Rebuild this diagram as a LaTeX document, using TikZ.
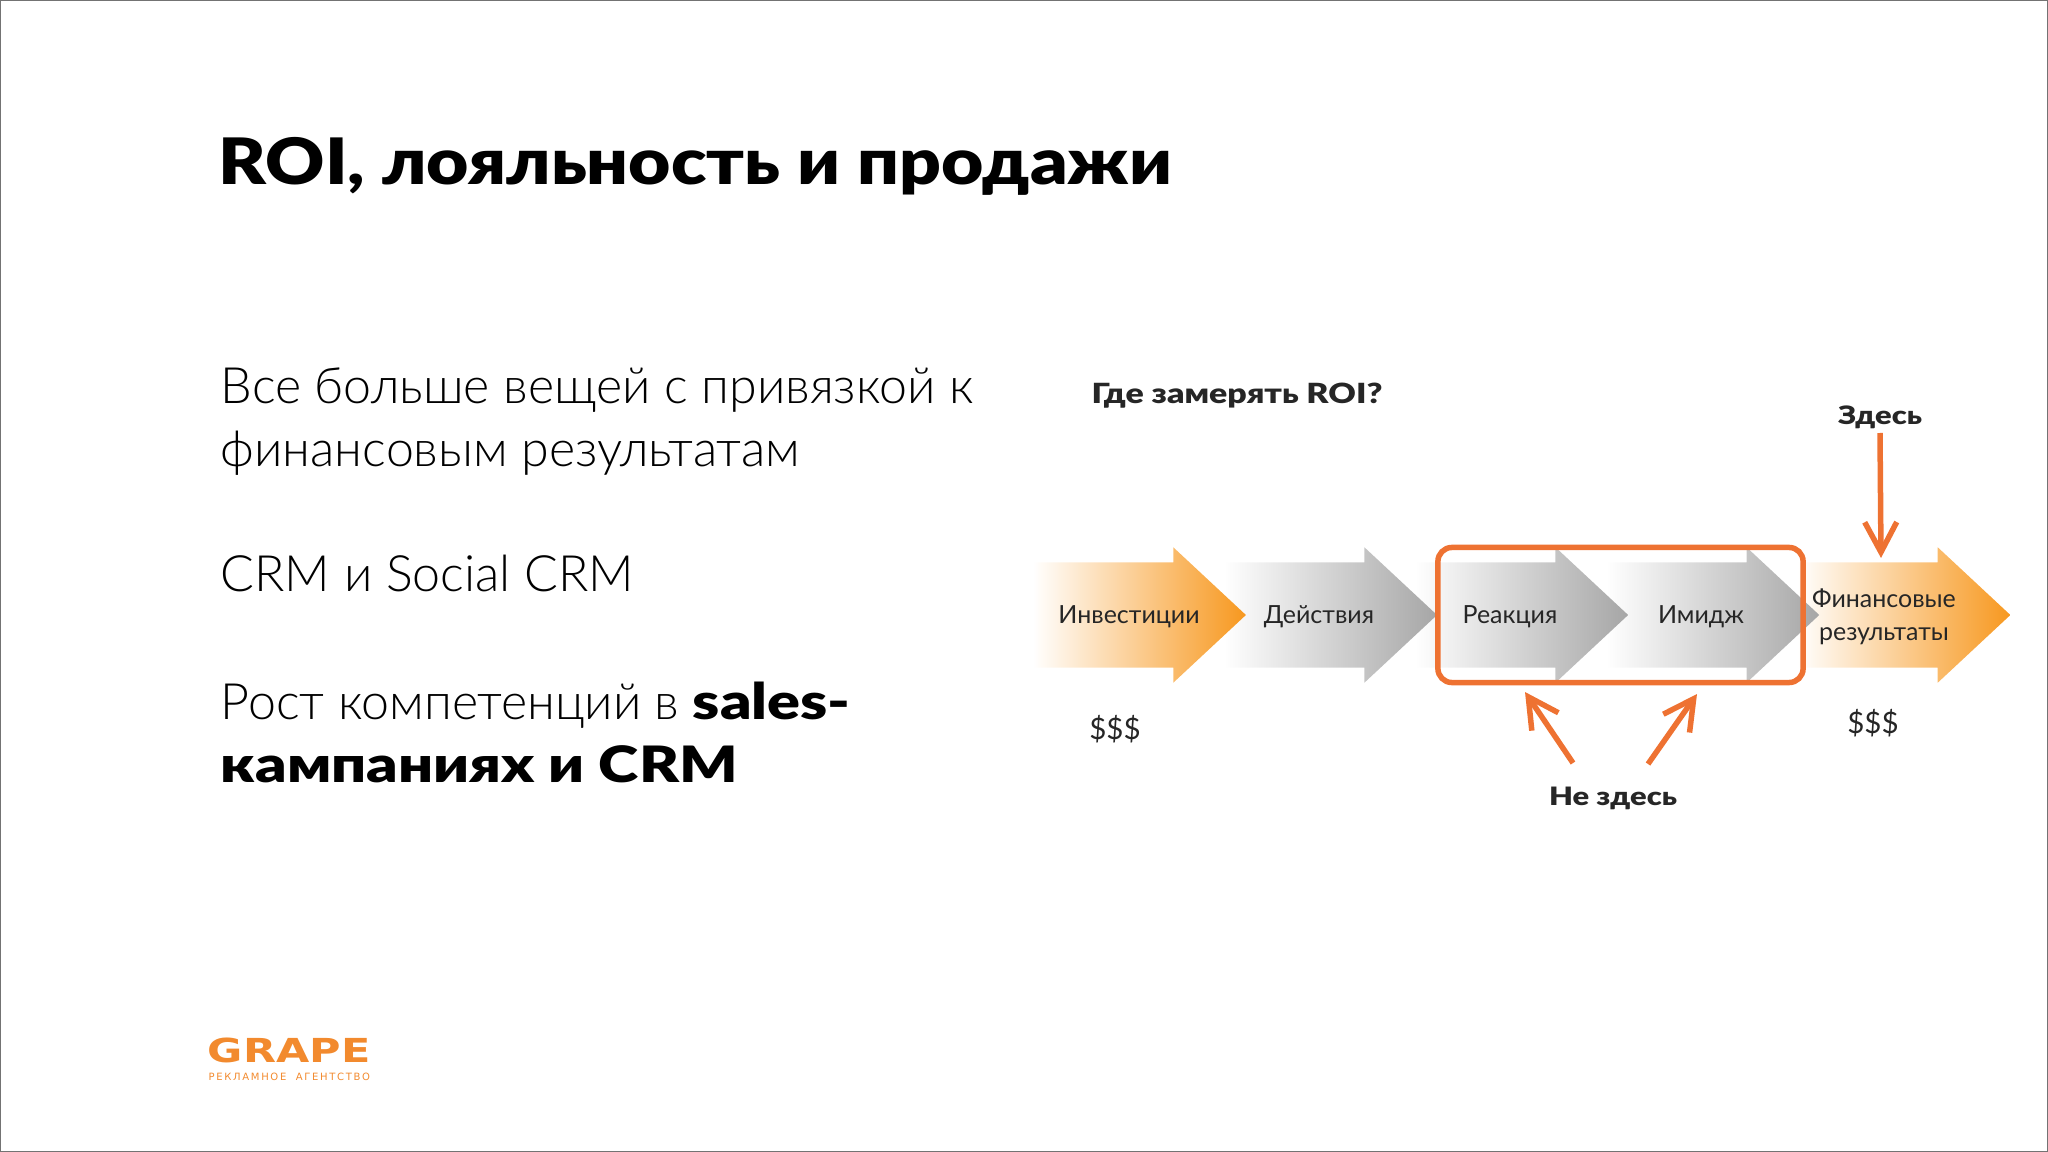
\documentclass[tikz,border=0pt]{standalone}
\usepackage{fontspec}
\usetikzlibrary{shapes.arrows,arrows.meta}
\setmainfont{Lato}
\newfontfamily\lightfont{Lato Light}
\newfontfamily\blackfont[FakeStretch=1.22]{Lato Black}
\newfontfamily\titlefont[FakeStretch=1.14]{Lato Black}
\newfontfamily\logofont{DejaVu Sans}
\definecolor{grapeorange}{HTML}{F28A2E}
\definecolor{markorange}{HTML}{EE7232}
\definecolor{headorange}{HTML}{F7981F}
\definecolor{headgray}{HTML}{A6A6A6}
\begin{document}
\begin{tikzpicture}[x=0.01cm, y=-0.01cm, node distance=1.91cm,
    step arrow/.style={single arrow,minimum width=1.34cm,minimum height=2.13cm,inner sep=0pt,
      text height=1.04cm,text depth=0pt,
      single arrow head extend=0.15cm,single arrow tip angle=86,draw=none},
    orange arrow/.style={step arrow,left color=white,right color=headorange},
    gray arrow/.style={step arrow,left color=white,right color=headgray},
    arrow label/.style={font=\fontsize{7.1pt}{9.4pt}\selectfont,text=black!85,align=center,inner sep=0pt},
    bold label/.style={font=\blackfont\fontsize{7.2pt}{9pt}\selectfont,text=black!85,inner sep=0pt},
    body text/.style={font=\lightfont\fontsize{14.25pt}{17.9pt}\selectfont,anchor=base west,inner sep=0pt,align=left},
    mark arrow/.style={draw=markorange,line width=0.055cm,-{Straight Barb[length=0.3cm,width=0.32cm]}}]
  \useasboundingbox (0,0) rectangle (2048,1152);
  \draw[black!55,line width=0.02cm] (0,0) rectangle (2048,1152);

  \node[font=\titlefont\fontsize{18.2pt}{22pt}\selectfont,anchor=base west,inner sep=0pt] (title) at (218,185) {ROI, лояльность и продажи};

  \node[body text] (line1) at (220,404) {Все больше вещей с привязкой к};
  \node[body text] (line2) at (220,467) {финансовым результатам};
  \node[body text] (line3) at (220,591) {CRM и Social CRM};
  \node[body text] (line4) at (220,719) {Рост компетенций в {\blackfont sales-}};
  \node[body text] (line5) at (220,782) {\blackfont кампаниях и CRM};

  % arrows go from right to left, each one lies under the tip of its left neighbour
  \node[orange arrow] (fin) at (1875.5,615) {};
  \node[gray arrow] (image) [left of=fin] {};
  \node[gray arrow] (react) [left of=image] {};
  \node[gray arrow] (act) [left of=react] {};
  \node[orange arrow] (invest) [left of=act] {};

  \node[arrow label] (l1) at (1129,617) {Инвестиции};
  \node[arrow label] (l2) at (1319,617) {Действия};
  \node[arrow label] (l3) at (1510,617) {Реакция};
  \node[arrow label] (l4) at (1701,617) {Имидж};
  \node[arrow label] (l5) at (1884,617) {Финансовые\\результаты};

  \node[draw=markorange,line width=0.055cm,rounded corners=0.14cm,minimum width=3.65cm,minimum height=1.35cm,inner sep=0pt] (box) at (1620.5,615) {};

  \node[bold label,anchor=base west,font=\blackfont\fontsize{7.9pt}{9pt}\selectfont] (where) at (1091,404) {Где замерять ROI?};
  \node[bold label] (here) at (1880,417) {Здесь};
  \node[bold label] (nothere) at (1613,798) {Не здесь};
  \node[arrow label,font=\fontsize{8.4pt}{10pt}\selectfont] (cost) at (1115,729) {\$\$\$};
  \node[arrow label,font=\fontsize{8.4pt}{10pt}\selectfont] (gain) at (1873,723) {\$\$\$};

  \coordinate (here tip) at (1881,558);
  \coordinate (left start) at (1573,763);
  \coordinate (left tip) at (1525,692);
  \coordinate (right start) at (1648,764);
  \coordinate (right tip) at (1697,694);
  \draw[mark arrow] (here) ++(0,16) -- (here tip);
  \draw[mark arrow] (left start) -- (left tip);
  \draw[mark arrow] (right start) -- (right tip);

  \node[font=\logofont\bfseries\fontsize{9.4pt}{10pt}\selectfont,text=grapeorange,anchor=base west,inner sep=0pt,transform shape,xscale=1.3] (logo) at (207,1062) {GRAPE};
  \node[font=\logofont\fontsize{2.85pt}{3pt}\selectfont,text=grapeorange,anchor=base west,inner sep=0pt] (sub) at (208,1080) {Р\,Е\,К\,Л\,А\,М\,Н\,О\,Е\ \ \ А\,Г\,Е\,Н\,Т\,С\,Т\,В\,О};
\end{tikzpicture}
\end{document}
